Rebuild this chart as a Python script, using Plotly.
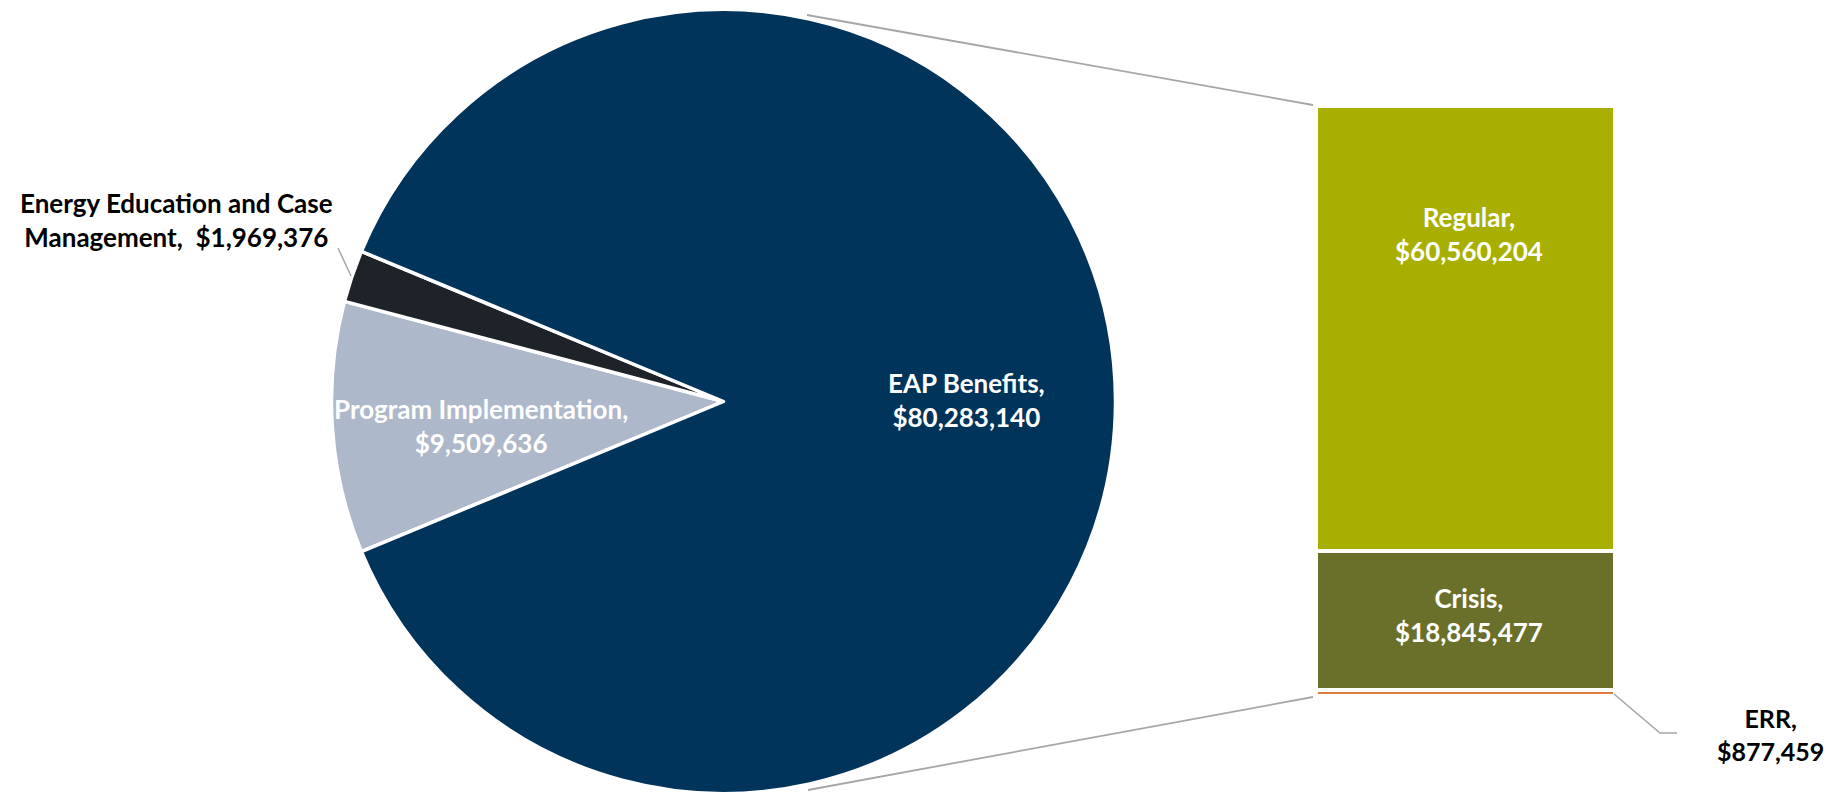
import plotly.graph_objects as go

# ---- data ----
pie_labels = ["Program Implementation", "Energy Education and Case Management", "EAP Benefits"]
pie_values = [9509636, 1969376, 80283140]
pie_colors = ["#ADB8CA", "#1E232A", "#01345A"]

bar_labels = ["ERR", "Crisis", "Regular"]
bar_values = [877459, 18845477, 60560204]
bar_colors = ["#E07B39", "#6A6F2A", "#A9AF00"]

# page has an 8px body margin; figure is sized so it fills the 1836x794 window
OFF = 8
W, H = 1836 - OFF, 794 - OFF
FONT = "Lato"

def px(x):
    return (x - OFF) / W

def py(y):
    return 1 - (y - OFF) / H

fig = go.Figure()

# pie (small slices centred on the left)
small_share = sum(pie_values[:2]) / sum(pie_values)
fig.add_trace(go.Pie(
    labels=pie_labels, values=pie_values, sort=False, direction="clockwise",
    rotation=-(90 + small_share * 180),
    marker=dict(colors=pie_colors, line=dict(color="white", width=3.5)),
    textinfo="none", hoverinfo="label+value",
    domain=dict(x=[px(331.5), px(1115.5)], y=[max(0, py(793.5)), py(9.5)]),
    showlegend=False,
))

# stacked bar
for lab, val, col in zip(bar_labels, bar_values, bar_colors):
    fig.add_trace(go.Bar(
        x=[0], y=[val], name=lab, marker=dict(color=col, line=dict(color="white", width=4)),
        width=1, showlegend=False, xaxis="x", yaxis="y",
    ))

fig.update_layout(
    width=W, height=H, margin=dict(l=0, r=0, t=0, b=0),
    paper_bgcolor="white", plot_bgcolor="white", barmode="stack",
    xaxis=dict(domain=[px(1316), px(1615)], range=[-0.5, 0.5], visible=False, fixedrange=True),
    yaxis=dict(domain=[py(696), py(106)], range=[0, sum(bar_values)], visible=False, fixedrange=True),
)

# connector lines
line_style = dict(color="#A6A6A6", width=1.8)
fig.add_shape(type="line", xref="paper", yref="paper", x0=px(807), y0=py(15), x1=px(1313), y1=py(105), line=line_style)
fig.add_shape(type="line", xref="paper", yref="paper", x0=px(808), y0=py(790), x1=px(1313), y1=py(697), line=line_style)
# ERR leader
fig.add_shape(type="path", xref="paper", yref="paper",
              path=f"M {px(1614)},{py(694)} L {px(1660)},{py(733)} L {px(1677)},{py(733)}",
              line=dict(color="#A6A6A6", width=1.5))
# Energy Education leader
fig.add_shape(type="line", xref="paper", yref="paper", x0=px(338), y0=py(248), x1=px(351), y1=py(276),
              line=dict(color="#A6A6A6", width=1.5))

def fmt(v):
    return "${:,}".format(v)

def ann(x, y, text, color, size=26):
    fig.add_annotation(x=px(x), y=py(y), xref="paper", yref="paper", text=text, showarrow=False,
                       align="center", xanchor="center", yanchor="middle",
                       font=dict(family=FONT, size=size, color=color))

ann(966, 400, f"<b>{pie_labels[2]},<br>{fmt(pie_values[2])}</b>", "white")
ann(481, 426, f"<b>{pie_labels[0]},<br>{fmt(pie_values[0])}</b>", "white")
ann(176, 220, f"<b>Energy Education and Case<br>Management,  {fmt(pie_values[1])}</b>", "black")
ann(1469, 234, f"<b>{bar_labels[2]},<br>{fmt(bar_values[2])}</b>", "white")
ann(1469, 615, f"<b>{bar_labels[1]},<br>{fmt(bar_values[1])}</b>", "white")
ann(1770, 734, f"<b>{bar_labels[0]},<br>{fmt(bar_values[0])}</b>", "black", size=25)

fig.write_html("out.html")
